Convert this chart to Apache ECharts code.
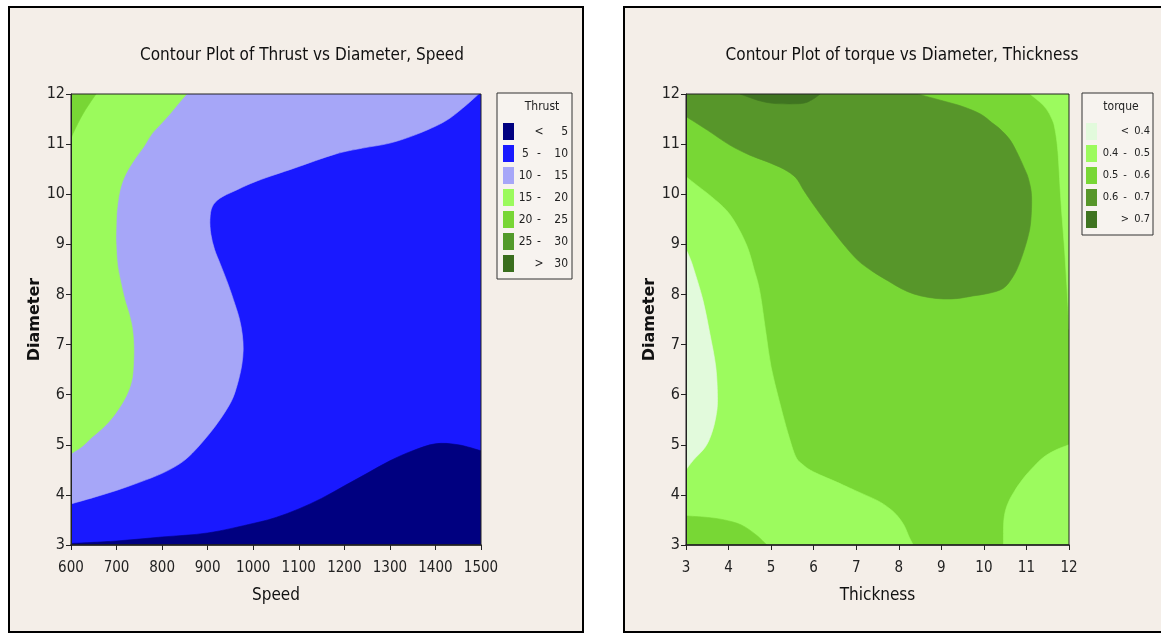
<!DOCTYPE html>
<html>
<head>
<meta charset="utf-8">
<script src="https://cdn.jsdelivr.net/npm/echarts@6/dist/echarts.min.js"></script>
<style>
html,body{margin:0;padding:0;background:#fff;}
#c{width:1161px;height:634px;}
</style>
</head>
<body>
<div id="c"></div>
<script>
// ---------- Chart 1: Thrust vs Diameter, Speed ----------
const speedTicks = [600, 700, 800, 900, 1000, 1100, 1200, 1300, 1400, 1500];
const diameterTicks = [3, 4, 5, 6, 7, 8, 9, 10, 11, 12];
const thrustBands = ['< 5', '5 - 10', '10 - 15', '15 - 20', '20 - 25', '25 - 30', '> 30'];
const thrustColors = ['#000080', '#1919FF', '#A6A6F8', '#9BFA5C', '#78D635', '#529A2A', '#3A6E1E'];
const thrustLabelParts = [['', '<', '5'], ['5', '-', '10'], ['10', '-', '15'], ['15', '-', '20'], ['20', '-', '25'], ['25', '-', '30'], ['', '>', '30']];

// contour boundaries (Speed, Diameter); corners close each region along the frame
const thrust_5_10_curve = [];
const thrust_5_10_corners = [[600, 3], [1500, 3], [1500, 12], [600, 12]];
const thrust_10_15_curve = [[600, 3.82], [650, 3.95], [700, 4.09], [750, 4.25], [800, 4.43], [840, 4.63], [866, 4.83], [890, 5.07], [915, 5.35], [940, 5.68], [956, 5.95], [968, 6.3], [975, 6.6], [978, 6.9], [976, 7.2], [970, 7.5], [960, 7.8], [945, 8.2], [928, 8.6], [915, 8.9], [907, 9.2], [905, 9.5], [910, 9.75], [927, 9.92], [960, 10.07], [1010, 10.27], [1090, 10.52], [1180, 10.8], [1240, 10.92], [1300, 11.02], [1360, 11.2], [1420, 11.45], [1460, 11.72], [1495, 12]];
const thrust_10_15_corners = [[600, 12]];
const thrust_15_20_curve = [[600, 4.82], [625, 4.97], [646, 5.15], [668, 5.32], [687, 5.5], [705, 5.72], [720, 5.95], [731, 6.2], [736, 6.45], [738, 6.9], [735, 7.3], [728, 7.6], [718, 7.9], [708, 8.3], [702, 8.6], [699, 9.0], [699, 9.3], [701, 9.7], [708, 10.1], [720, 10.4], [740, 10.7], [760, 10.95], [777, 11.2], [797, 11.4], [817, 11.6], [835, 11.8], [854, 12]];
const thrust_15_20_corners = [[600, 12]];
const thrust_20_25_curve = [[600, 11.12], [610, 11.32], [620, 11.5], [630, 11.66], [640, 11.8], [655, 12]];
const thrust_20_25_corners = [[600, 12]];
const thrust_lt5_curve = [[600, 3.03], [700, 3.08], [800, 3.16], [900, 3.24], [1000, 3.43], [1050, 3.55], [1100, 3.72], [1150, 3.93], [1200, 4.18], [1250, 4.43], [1300, 4.68], [1350, 4.88], [1400, 5.02], [1450, 5.0], [1500, 4.88]];
const thrust_lt5_corners = [[1500, 3], [600, 3]];

// ---------- Chart 2: torque vs Diameter, Thickness ----------
const thicknessTicks = [3, 4, 5, 6, 7, 8, 9, 10, 11, 12];
const torqueBands = ['< 0.4', '0.4 - 0.5', '0.5 - 0.6', '0.6 - 0.7', '> 0.7'];
const torqueColors = ['#E2FADC', '#9CFB5E', '#78D735', '#57962A', '#3F7421'];
const torqueLabelParts = [['', '<', '0.4'], ['0.4', '-', '0.5'], ['0.5', '-', '0.6'], ['0.6', '-', '0.7'], ['', '>', '0.7']];

const torque_05_06_curve = [];
const torque_05_06_corners = [[3, 3], [12, 3], [12, 12], [3, 12]];
const torque_04_05_left_curve = [[3, 10.35], [3.3, 10.15], [3.6, 9.95], [3.96, 9.67], [4.22, 9.34], [4.45, 8.93], [4.6, 8.5], [4.7, 8.2], [4.77, 7.88], [4.88, 7.22], [5.0, 6.55], [5.19, 5.88], [5.4, 5.22], [5.58, 4.76], [5.75, 4.6], [5.93, 4.49], [6.2, 4.38], [6.45, 4.29], [6.97, 4.09], [7.49, 3.89], [7.75, 3.75], [7.95, 3.6], [8.12, 3.4], [8.25, 3.15], [8.34, 3]];
const torque_04_05_left_corners = [[3, 3]];
const torque_05_06_patch_curve = [[3, 3.58], [3.5, 3.55], [3.9, 3.5], [4.3, 3.4], [4.65, 3.2], [4.9, 3]];
const torque_05_06_patch_corners = [[3, 3]];
const torque_lt04_curve = [[3, 8.9], [3.08, 8.75], [3.17, 8.54], [3.4, 7.88], [3.56, 7.22], [3.7, 6.55], [3.74, 5.9], [3.7, 5.55], [3.6, 5.22], [3.45, 4.95], [3.17, 4.69], [3, 4.5]];
const torque_lt04_corners = [];
const torque_04_05_br_curve = [[10.46, 3], [10.47, 3.5], [10.55, 3.8], [10.7, 4.05], [10.9, 4.3], [11.1, 4.5], [11.4, 4.75], [11.7, 4.9], [12, 5.0]];
const torque_04_05_br_corners = [[12, 3]];
const torque_04_05_tr_curve = [[11.08, 12], [11.3, 11.85], [11.47, 11.7], [11.6, 11.5], [11.67, 11.3], [11.74, 10.85], [11.8, 10.0], [11.84, 9.52], [11.9, 8.85], [11.95, 8.18], [11.99, 7.52], [12, 7.3]];
const torque_04_05_tr_corners = [[12, 12]];
const torque_06_07_curve = [[3, 11.55], [3.5, 11.28], [4.03, 10.98], [4.5, 10.78], [4.9, 10.65], [5.3, 10.5], [5.58, 10.33], [5.75, 10.1], [5.93, 9.87], [6.2, 9.55], [6.45, 9.27], [6.75, 8.95], [7.05, 8.67], [7.4, 8.45], [7.75, 8.27], [8.05, 8.12], [8.35, 8.01], [8.7, 7.94], [9.05, 7.91], [9.4, 7.92], [9.74, 7.97], [10.1, 8.02], [10.45, 8.12], [10.68, 8.35], [10.85, 8.65], [11.02, 9.1], [11.1, 9.45], [11.12, 9.97], [11.05, 10.3], [10.96, 10.5], [10.77, 10.85], [10.6, 11.1], [10.38, 11.3], [10.2, 11.42], [9.92, 11.6], [9.5, 11.75], [9.05, 11.86], [8.44, 12]];
const torque_06_07_corners = [[3, 12]];
const torque_gt07_curve = [[4.27, 12], [4.5, 11.93], [4.75, 11.86], [5.1, 11.81], [5.7, 11.81], [5.95, 11.88], [6.15, 12]];
const torque_gt07_corners = [];

// ---------- build ----------
const NARROW = "'Liberation Sans Narrow', 'DejaVu Sans Condensed', 'Liberation Sans', sans-serif";
const BG = '#F4EEE8';

function pathFor(curvePx, cornerPx) {
  const all = curvePx.concat(cornerPx);
  let d = 'M' + all[0][0].toFixed(2) + ' ' + all[0][1].toFixed(2);
  const n = curvePx.length;
  for (let i = 0; i < n - 1; i++) {
    const p0 = curvePx[i - 1] || curvePx[i], p1 = curvePx[i], p2 = curvePx[i + 1], p3 = curvePx[i + 2] || curvePx[i + 1];
    const c1x = p1[0] + (p2[0] - p0[0]) / 6, c1y = p1[1] + (p2[1] - p0[1]) / 6;
    const c2x = p2[0] - (p3[0] - p1[0]) / 6, c2y = p2[1] - (p3[1] - p1[1]) / 6;
    d += ' C' + c1x.toFixed(2) + ' ' + c1y.toFixed(2) + ' ' + c2x.toFixed(2) + ' ' + c2y.toFixed(2) + ' ' + p2[0].toFixed(2) + ' ' + p2[1].toFixed(2);
  }
  const start = n > 0 ? 0 : 1;
  for (let j = start; j < cornerPx.length; j++) d += ' L' + cornerPx[j][0].toFixed(2) + ' ' + cornerPx[j][1].toFixed(2);
  return d + ' Z';
}

function areaSeries(name, color, curve, corners, idx) {
  const pts = curve.concat(corners);
  return {
    type: 'custom', name: name, xAxisIndex: idx, yAxisIndex: idx,
    itemStyle: { color: color }, silent: true, animation: false, clip: true,
    encode: { x: 0, y: 1 },
    data: pts,
    renderItem: function (params, api) {
      if (params.dataIndex !== 0) return;
      const cPx = curve.map(function (p) { return api.coord(p); });
      const kPx = corners.map(function (p) { return api.coord(p); });
      return { type: 'path', shape: { pathData: pathFor(cPx, kPx) }, style: { fill: color, stroke: color, lineWidth: 0.6 } };
    }
  };
}
function emptySeries(name, color, idx) {
  return { type: 'custom', name: name, xAxisIndex: idx, yAxisIndex: idx, itemStyle: { color: color }, data: [], renderItem: function () { } };
}
function xAxisCfg(idx, min, max, interval, name, ticks) {
  return {
    gridIndex: idx, type: 'value', min: min, max: max, interval: interval,
    name: name, nameLocation: 'middle', nameGap: 42,
    nameTextStyle: { fontFamily: NARROW, fontSize: 17, color: '#111' },
    axisLine: { show: true, onZero: false, lineStyle: { color: '#222', width: 1.5 } },
    axisTick: { show: true, inside: false, length: 5, lineStyle: { color: '#222' } },
    axisLabel: { margin: 16, fontFamily: NARROW, fontSize: 15, color: '#222',
      formatter: function (v) { return ticks.indexOf(v) >= 0 ? String(v) : ''; } },
    splitLine: { show: false }, z: 5
  };
}
function yAxisCfg(idx) {
  return {
    gridIndex: idx, type: 'value', min: 3, max: 12, interval: 1,
    name: 'Diameter', nameLocation: 'middle', nameGap: 27,
    nameTextStyle: { fontFamily: "'DejaVu Sans', sans-serif", fontWeight: 'bold', fontSize: 16, color: '#111' },
    axisLine: { show: true, onZero: false, lineStyle: { color: '#222', width: 1 } },
    axisTick: { show: true, inside: false, length: 5, lineStyle: { color: '#222' } },
    axisLabel: { margin: 6, fontFamily: NARROW, fontSize: 16, color: '#222',
      formatter: function (v) { return diameterTicks.indexOf(v) >= 0 ? String(v) : ''; } },
    splitLine: { show: false }, z: 5
  };
}
function legendCfg(names, parts, left, padding, fs, wa, wb, wc) {
  return {
    show: true, left: left, top: 93, orient: 'vertical', icon: 'rect',
    itemWidth: 11, itemHeight: 17, itemGap: 5, selectedMode: false,
    padding: padding, borderColor: '#333', borderWidth: 1, backgroundColor: '#F7F3EF',
    data: names,
    formatter: function (name) {
      const p = parts[names.indexOf(name)];
      return '{a|' + p[0] + '}{b|' + p[1] + '}{c|' + p[2] + '}';
    },
    textStyle: {
      fontFamily: NARROW, fontSize: fs, color: '#222',
      rich: {
        a: { width: wa, align: 'right', fontFamily: NARROW, fontSize: fs },
        b: { width: wb, align: 'center', fontFamily: NARROW, fontSize: fs },
        c: { width: wc, align: 'right', fontFamily: NARROW, fontSize: fs }
      }
    }
  };
}

const series = [
  areaSeries(thrustBands[1], thrustColors[1], thrust_5_10_curve, thrust_5_10_corners, 0),
  areaSeries(thrustBands[2], thrustColors[2], thrust_10_15_curve, thrust_10_15_corners, 0),
  areaSeries(thrustBands[3], thrustColors[3], thrust_15_20_curve, thrust_15_20_corners, 0),
  areaSeries(thrustBands[4], thrustColors[4], thrust_20_25_curve, thrust_20_25_corners, 0),
  areaSeries(thrustBands[0], thrustColors[0], thrust_lt5_curve, thrust_lt5_corners, 0),
  emptySeries(thrustBands[5], thrustColors[5], 0),
  emptySeries(thrustBands[6], thrustColors[6], 0),

  areaSeries(torqueBands[2], torqueColors[2], torque_05_06_curve, torque_05_06_corners, 1),
  areaSeries(torqueBands[1], torqueColors[1], torque_04_05_left_curve, torque_04_05_left_corners, 1),
  areaSeries(torqueBands[2], torqueColors[2], torque_05_06_patch_curve, torque_05_06_patch_corners, 1),
  areaSeries(torqueBands[0], torqueColors[0], torque_lt04_curve, torque_lt04_corners, 1),
  areaSeries(torqueBands[1], torqueColors[1], torque_04_05_br_curve, torque_04_05_br_corners, 1),
  areaSeries(torqueBands[1], torqueColors[1], torque_04_05_tr_curve, torque_04_05_tr_corners, 1),
  areaSeries(torqueBands[3], torqueColors[3], torque_06_07_curve, torque_06_07_corners, 1),
  areaSeries(torqueBands[4], torqueColors[4], torque_gt07_curve, torque_gt07_corners, 1)
];

const chart = echarts.init(document.getElementById('c'), null, { renderer: 'canvas' });
chart.setOption({
  backgroundColor: '#ffffff',
  animation: false,
  graphic: [
    { type: 'rect', z: -10, shape: { x: 9, y: 7, width: 574, height: 625 }, style: { fill: BG, stroke: '#000', lineWidth: 2 } },
    { type: 'rect', z: -10, shape: { x: 624, y: 7, width: 560, height: 625 }, style: { fill: BG, stroke: '#000', lineWidth: 2 } },
    { type: 'text', z: 100, style: { x: 542, y: 107, text: 'Thrust', align: 'center', verticalAlign: 'middle', font: "12px 'Liberation Sans Narrow', 'DejaVu Sans Condensed', sans-serif", fill: '#222' } },
    { type: 'text', z: 100, style: { x: 1121, y: 107, text: 'torque', align: 'center', verticalAlign: 'middle', font: "12px 'Liberation Sans Narrow', 'DejaVu Sans Condensed', sans-serif", fill: '#222' } }
  ],
  title: [
    { text: 'Contour Plot of Thrust vs Diameter, Speed', left: 297, top: 42, textAlign: 'center',
      textStyle: { fontFamily: NARROW, fontSize: 17, fontWeight: 'normal', color: '#111' } },
    { text: 'Contour Plot of torque vs Diameter, Thickness', left: 897, top: 42, textAlign: 'center',
      textStyle: { fontFamily: NARROW, fontSize: 17, fontWeight: 'normal', color: '#111' } }
  ],
  grid: [
    { left: 71, top: 94, width: 410, height: 451, show: true, borderColor: '#222', borderWidth: 1, backgroundColor: 'transparent', z: 5 },
    { left: 686, top: 94, width: 383, height: 451, show: true, borderColor: '#222', borderWidth: 1, backgroundColor: 'transparent', z: 5 }
  ],
  xAxis: [
    xAxisCfg(0, 600, 1500, 100, 'Speed', speedTicks),
    xAxisCfg(1, 3, 12, 1, 'Thickness', thicknessTicks)
  ],
  yAxis: [yAxisCfg(0), yAxisCfg(1)],
  legend: [
    legendCfg(thrustBands, thrustLabelParts, 497, [30, 4, 7, 6], 12, 13, 14, 22),
    legendCfg(torqueBands, torqueLabelParts, 1082, [30, 3, 7, 4], 11, 17, 12, 19)
  ],
  series: series
});
</script>
</body>
</html>
